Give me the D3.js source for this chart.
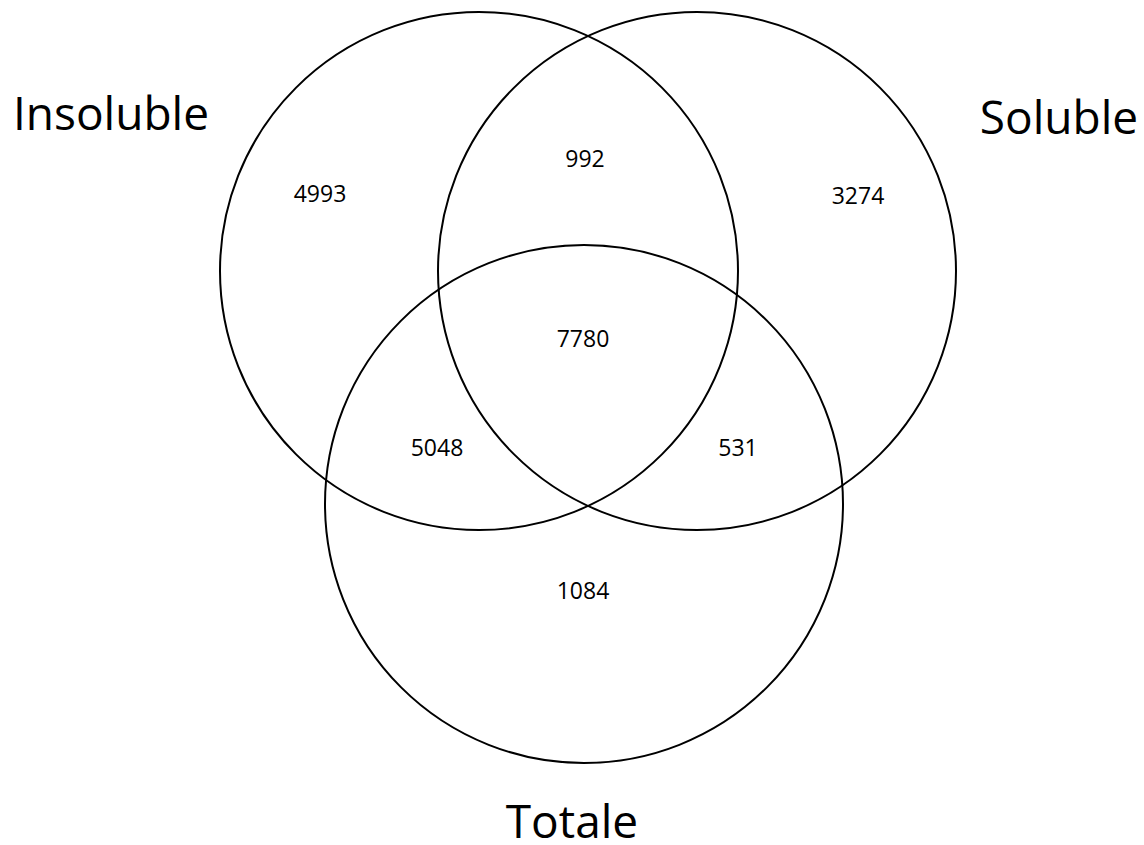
<!DOCTYPE html>
<html><head><meta charset="utf-8">
<script src="https://cdn.jsdelivr.net/npm/d3@7"></script>
<style>body{margin:0;background:#fff}svg{display:block}</style>
</head><body>
<script>
const setNames = ["Insoluble", "Soluble", "Totale"];
const regionLabels = ["Insoluble only", "Insoluble∩Soluble", "Soluble only", "All three", "Insoluble∩Totale", "Soluble∩Totale", "Totale only"];
const regionCounts = [4993, 992, 3274, 7780, 5048, 531, 1084];

const W = 1144, H = 845;
const svg = d3.select("body").append("svg").attr("width", W).attr("height", H);
// layout in units of circle radius
const x = d3.scaleLinear().domain([-1, 1]).range([479 - 259, 479 + 259]);
const y = d3.scaleLinear().domain([-1, 1]).range([271 - 259, 271 + 259]);
const unit = 259;
const circles = [
  {cx: 0, cy: 0},
  {cx: 218 / unit, cy: 0},
  {cx: 105 / unit, cy: 233 / unit}
];
svg.selectAll("circle").data(circles).join("circle")
  .attr("cx", d => x(d.cx)).attr("cy", d => y(d.cy)).attr("r", unit)
  .attr("fill", "none").attr("stroke", "#000").attr("stroke-width", 2);

const regionPos = [[-159, -78], [106, -113], [379, -76], [104, 67], [-42, 176], [259, 176], [104, 319]];
svg.selectAll("text.num").data(regionCounts).join("text").attr("class", "num")
  .attr("x", (d, i) => x(regionPos[i][0] / unit)).attr("y", (d, i) => y(regionPos[i][1] / unit))
  .attr("text-anchor", "middle").attr("dominant-baseline", "central")
  .attr("font-family", "Open Sans").attr("font-size", 23).attr("fill", "#000")
  .text(d => d);

const labelPos = [[-368, -141], [580, -137], [93, 567]];
svg.selectAll("text.set").data(setNames).join("text").attr("class", "set")
  .attr("x", (d, i) => x(labelPos[i][0] / unit)).attr("y", (d, i) => y(labelPos[i][1] / unit))
  .attr("text-anchor", "middle")
  .attr("font-family", "Open Sans").attr("font-size", 46).attr("fill", "#000")
  .text(d => d);
</script>
</body></html>
